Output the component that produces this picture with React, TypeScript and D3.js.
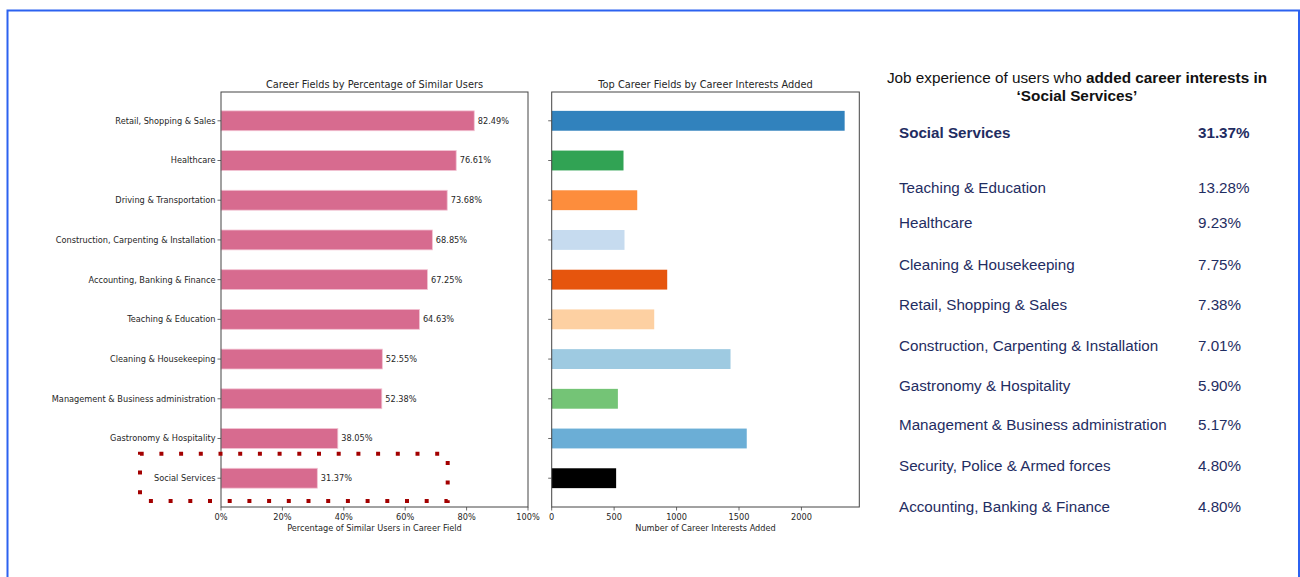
import React from "react";
import * as d3 from "d3";

const categories = [
  "Retail, Shopping & Sales",
  "Healthcare",
  "Driving & Transportation",
  "Construction, Carpenting & Installation",
  "Accounting, Banking & Finance",
  "Teaching & Education",
  "Cleaning & Housekeeping",
  "Management & Business administration",
  "Gastronomy & Hospitality",
  "Social Services",
];
const similarPct = [82.49, 76.61, 73.68, 68.85, 67.25, 64.63, 52.55, 52.38, 38.05, 31.37];
const interestsAdded = [2346, 575, 685, 583, 925, 821, 1432, 530, 1562, 516];
const interestColors = [
  "#3182bd", "#31a354", "#fd8d3c", "#c6dbef", "#e6550d",
  "#fdd0a2", "#9ecae1", "#74c476", "#6baed6", "#000000",
];
const pctTicks = [0, 20, 40, 60, 80, 100];
const countTicks = [0, 500, 1000, 1500, 2000];

const tableFields = [
  "Social Services",
  "Teaching & Education",
  "Healthcare",
  "Cleaning & Housekeeping",
  "Retail, Shopping & Sales",
  "Construction, Carpenting & Installation",
  "Gastronomy & Hospitality",
  "Management & Business administration",
  "Security, Police & Armed forces",
  "Accounting, Banking & Finance",
];
const tablePcts = ["31.37%", "13.28%", "9.23%", "7.75%", "7.38%", "7.01%", "5.90%", "5.17%", "4.80%", "4.80%"];

// layout
const rowY = [133, 188, 223, 265, 305, 346, 386, 425, 466, 507];
const MPL = "'DejaVu Sans', sans-serif";
const ARIAL = "Arial, 'Liberation Sans', sans-serif";
const TXT = "#262626";
const NAVY = "#1f2d62";
const FS = 8.2;

export default function App() {
  const top = 92, bottom = 507;
  const y = d3.scaleLinear().domain([-0.725, 9.725]).range([top, bottom]);
  const bh = y(0.25) - y(-0.25);
  const xL = d3.scaleLinear().domain([0, 100]).range([221, 528]);
  const maxC = d3.max(interestsAdded) as number;
  const xM = d3.scaleLinear().domain([0, maxC * 1.05]).range([551.7, 859.3]);

  const panel = (x0: number, x1: number) => (
    <rect x={x0} y={top} width={x1 - x0} height={bottom - top} fill="none" stroke="#444" strokeWidth={1} />
  );

  return (
    <svg width={1300} height={577} style={{ position: "absolute", left: 0, top: 0, background: "#fff" }}>
      <rect x={0} y={0} width={1300} height={577} fill="#fff" />
      {/* outer blue frame */}
      <path d="M7.5,577 L7.5,10.5 L1299,10.5 L1299,577" fill="none" stroke="#2c62f0" strokeWidth={2} />

      {/* Left chart */}
      <text x={(xL(0) + xL(100)) / 2} y={87.5} textAnchor="middle" fontFamily={MPL} fontSize={9.8} fill={TXT}>
        Career Fields by Percentage of Similar Users
      </text>
      {categories.map((c, i) => (
        <g key={c}>
          <rect x={xL(0)} y={y(i) - bh / 2} width={xL(similarPct[i]) - xL(0)} height={bh} fill="#d76b8f" stroke="#f2c2d2" strokeWidth={0.8} />
          <line x1={xL(0) - 3.5} x2={xL(0)} y1={y(i)} y2={y(i)} stroke="#444" strokeWidth={0.8} />
          <text x={xL(0) - 5.5} y={y(i)} dy="0.35em" textAnchor="end" fontFamily={MPL} fontSize={FS} fill={TXT}>{c}</text>
          <text x={xL(similarPct[i]) + 3.5} y={y(i)} dy="0.35em" fontFamily={MPL} fontSize={FS} fill={TXT}>
            {similarPct[i].toFixed(2)}%
          </text>
        </g>
      ))}
      {pctTicks.map((t) => (
        <g key={t}>
          <line x1={xL(t)} x2={xL(t)} y1={bottom} y2={bottom + 3.5} stroke="#444" strokeWidth={0.8} />
          <text x={xL(t)} y={bottom + 13} textAnchor="middle" fontFamily={MPL} fontSize={FS} fill={TXT}>{t}%</text>
        </g>
      ))}
      <text x={(xL(0) + xL(100)) / 2} y={531} textAnchor="middle" fontFamily={MPL} fontSize={FS} fill={TXT}>
        Percentage of Similar Users in Career Field
      </text>
      {panel(xL(0), xL(100))}

      {/* Middle chart */}
      <text x={(xM.range()[0] + xM.range()[1]) / 2} y={87.5} textAnchor="middle" fontFamily={MPL} fontSize={9.8} fill={TXT}>
        Top Career Fields by Career Interests Added
      </text>
      {categories.map((c, i) => (
        <g key={c}>
          <rect x={xM(0)} y={y(i) - bh / 2} width={xM(interestsAdded[i]) - xM(0)} height={bh} fill={interestColors[i]} />
          <line x1={xM(0) - 3.5} x2={xM(0)} y1={y(i)} y2={y(i)} stroke="#444" strokeWidth={0.8} />
        </g>
      ))}
      {countTicks.map((t) => (
        <g key={t}>
          <line x1={xM(t)} x2={xM(t)} y1={bottom} y2={bottom + 3.5} stroke="#444" strokeWidth={0.8} />
          <text x={xM(t)} y={bottom + 13} textAnchor="middle" fontFamily={MPL} fontSize={FS} fill={TXT}>{t}</text>
        </g>
      ))}
      <text x={(xM.range()[0] + xM.range()[1]) / 2} y={531} textAnchor="middle" fontFamily={MPL} fontSize={FS} fill={TXT}>
        Number of Career Interests Added
      </text>
      {panel(xM.range()[0], xM.range()[1])}

      {/* highlight dotted box */}
      <path
        d="M141.7,453.7 L447.7,453.7 L447.7,501 L140,501 L140,453.7 Z"
        fill="none" stroke="#a30000" strokeWidth={4} strokeDasharray="4 15.7" strokeDashoffset={2}
      />

      {/* Right panel */}
      <text x={1077} y={82.5} textAnchor="middle" fontFamily={ARIAL} fontSize={15.3} fill="#111">
        Job experience of users who <tspan fontWeight="bold">added career interests in</tspan>
      </text>
      <text x={1077} y={100.5} textAnchor="middle" fontFamily={ARIAL} fontSize={15.3} fontWeight="bold" fill="#111">
        ‘Social Services’
      </text>
      {tableFields.map((f, i) => (
        <g key={f + i}>
          <text x={899} y={rowY[i]} dy="0.35em" fontFamily={ARIAL} fontSize={15.2} fontWeight={i === 0 ? "bold" : "normal"} fill={NAVY}>{f}</text>
          <text x={1198} y={rowY[i]} dy="0.35em" fontFamily={ARIAL} fontSize={15.2} fontWeight={i === 0 ? "bold" : "normal"} fill={NAVY}>{tablePcts[i]}</text>
        </g>
      ))}
    </svg>
  );
}
